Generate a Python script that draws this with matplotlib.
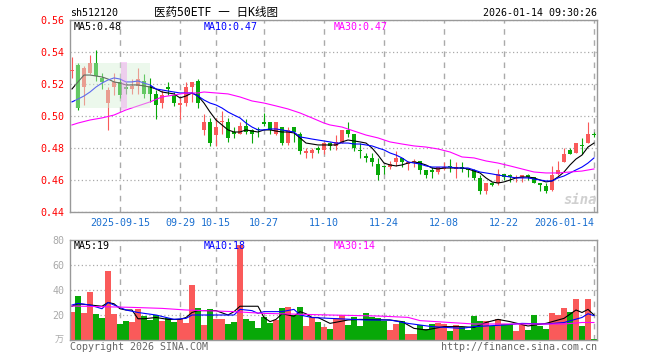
import numpy as np
import matplotlib
matplotlib.use("Agg")
import matplotlib.pyplot as plt
from matplotlib.patches import Rectangle

plt.rcParams['font.family'] = ['DejaVu Sans Mono', 'Noto Sans CJK SC']

# daily candles, Sep 3 2025 .. Jan 14 2026 (88 trading days)
opens = [0.528, 0.532, 0.518, 0.527, 0.533, 0.524, 0.508, 0.518, 0.521, 0.518,
         0.517, 0.519, 0.522, 0.519, 0.514, 0.508, 0.518, 0.513, 0.507, 0.508,
         0.518, 0.522, 0.491, 0.496, 0.488, 0.496, 0.496, 0.490, 0.489, 0.494,
         0.491, 0.492, 0.496, 0.496, 0.489, 0.493, 0.483, 0.493, 0.489, 0.477,
         0.477, 0.480, 0.479, 0.483, 0.481, 0.483, 0.491, 0.489, 0.479, 0.475,
         0.474, 0.470, 0.469, 0.468, 0.471, 0.474, 0.470, 0.471, 0.472, 0.466,
         0.466, 0.465, 0.467, 0.469, 0.467, 0.468, 0.467, 0.466, 0.461, 0.453,
         0.458, 0.458, 0.464, 0.463, 0.461, 0.461, 0.463, 0.462, 0.458, 0.456,
         0.454, 0.464, 0.471, 0.479, 0.477, 0.482, 0.483, 0.489]
highs = [0.537, 0.533, 0.531, 0.538, 0.541, 0.527, 0.518, 0.527, 0.523, 0.521,
         0.523, 0.530, 0.526, 0.524, 0.516, 0.516, 0.521, 0.515, 0.511, 0.521,
         0.521, 0.523, 0.501, 0.499, 0.499, 0.503, 0.499, 0.493, 0.496, 0.498,
         0.492, 0.493, 0.502, 0.496, 0.496, 0.493, 0.493, 0.493, 0.490, 0.480,
         0.480, 0.481, 0.484, 0.484, 0.488, 0.491, 0.496, 0.489, 0.483, 0.477,
         0.477, 0.474, 0.469, 0.472, 0.478, 0.474, 0.472, 0.473, 0.472, 0.466,
         0.468, 0.468, 0.471, 0.473, 0.471, 0.471, 0.467, 0.467, 0.463, 0.458,
         0.459, 0.467, 0.464, 0.464, 0.463, 0.463, 0.464, 0.462, 0.458, 0.458,
         0.469, 0.472, 0.480, 0.480, 0.483, 0.486, 0.496, 0.490]
lows = [0.524, 0.504, 0.507, 0.526, 0.522, 0.517, 0.491, 0.513, 0.511, 0.514,
        0.514, 0.514, 0.511, 0.509, 0.498, 0.505, 0.513, 0.506, 0.498, 0.506,
        0.509, 0.505, 0.488, 0.481, 0.481, 0.489, 0.484, 0.486, 0.489, 0.489,
        0.483, 0.487, 0.494, 0.489, 0.488, 0.482, 0.482, 0.484, 0.476, 0.474,
        0.474, 0.477, 0.476, 0.479, 0.479, 0.483, 0.487, 0.478, 0.474, 0.471,
        0.469, 0.460, 0.464, 0.467, 0.469, 0.468, 0.466, 0.468, 0.464, 0.461,
        0.461, 0.464, 0.466, 0.465, 0.461, 0.465, 0.462, 0.460, 0.451, 0.451,
        0.456, 0.457, 0.460, 0.459, 0.459, 0.459, 0.460, 0.458, 0.453, 0.452,
        0.453, 0.463, 0.471, 0.476, 0.477, 0.476, 0.483, 0.487]
closes = [0.529, 0.505, 0.530, 0.533, 0.525, 0.521, 0.516, 0.521, 0.513, 0.517,
          0.519, 0.523, 0.514, 0.514, 0.507, 0.513, 0.517, 0.508, 0.508, 0.518,
          0.521, 0.508, 0.496, 0.483, 0.493, 0.497, 0.486, 0.489, 0.494, 0.490,
          0.489, 0.491, 0.495, 0.491, 0.496, 0.483, 0.491, 0.490, 0.478, 0.478,
          0.479, 0.479, 0.483, 0.481, 0.484, 0.491, 0.489, 0.480, 0.478, 0.474,
          0.471, 0.463, 0.468, 0.470, 0.474, 0.471, 0.471, 0.472, 0.466, 0.463,
          0.465, 0.468, 0.468, 0.468, 0.468, 0.467, 0.466, 0.461, 0.453, 0.458,
          0.457, 0.464, 0.462, 0.462, 0.462, 0.463, 0.462, 0.458, 0.457, 0.453,
          0.463, 0.466, 0.476, 0.476, 0.483, 0.481, 0.489, 0.488]
volumes = [22.7, 35.5, 22, 38.7, 21, 18, 55.5, 21, 12.8, 15.5,
           14.7, 24.8, 19, 16, 20, 15.5, 17.3, 14.7, 16.8, 14,
           44, 25.3, 12, 24.8, 17, 16.8, 12.8, 14.7, 76, 17,
           15.5, 9.9, 18.7, 14, 16, 25.6, 26.4, 20, 26.4, 11.3,
           18.7, 14.7, 10.7, 8.9, 17.3, 20, 12, 18.7, 11.5, 21.9,
           18.7, 18, 15.5, 8, 12.8, 15.5, 4.8, 4.8, 12, 8.5,
           12.8, 13.3, 12.8, 7.5, 12, 10.7, 7.7, 19, 15.5, 15,
           11.5, 16.5, 12.8, 12.8, 7.5, 12, 7.8, 20, 11.5, 8.9,
           21.9, 20, 26, 22.7, 32.8, 11.5, 32.8, 0.8]

# moving averages as drawn on the chart
ma5 = [0.5169, 0.5213, 0.5256, 0.5256, 0.525, 0.5244, 0.5231, 0.5213, 0.5206, 0.5194,
       0.5194, 0.5194, 0.5188, 0.5181, 0.5169, 0.515, 0.5144, 0.5138, 0.5113, 0.5125,
       0.5144, 0.5125, 0.5081, 0.5025, 0.4975, 0.4944, 0.4913, 0.49, 0.49, 0.4913,
       0.4906, 0.49, 0.4913, 0.4913, 0.4906, 0.49, 0.49, 0.4894, 0.4863, 0.4831,
       0.4825, 0.4819, 0.4819, 0.4819, 0.4819, 0.4838, 0.485, 0.4844, 0.4838, 0.4831,
       0.48, 0.4756, 0.4706, 0.4694, 0.4688, 0.4694, 0.4706, 0.4713, 0.4706, 0.4694,
       0.4675, 0.4669, 0.4675, 0.4675, 0.4675, 0.4675, 0.4669, 0.4656, 0.4644, 0.4613,
       0.4588, 0.4581, 0.4588, 0.46, 0.4613, 0.4619, 0.4619, 0.4613, 0.46, 0.4588,
       0.4594, 0.4619, 0.465, 0.4694, 0.4731, 0.4756, 0.4806, 0.4831]
ma10 = [0.5088, 0.5106, 0.5125, 0.515, 0.5181, 0.5206, 0.5225, 0.5238, 0.5231, 0.5213,
        0.5213, 0.5219, 0.5206, 0.5194, 0.5169, 0.5163, 0.5156, 0.515, 0.5144, 0.5144,
        0.5144, 0.5125, 0.51, 0.5081, 0.5069, 0.505, 0.5025, 0.5006, 0.4988, 0.4956,
        0.4931, 0.4913, 0.4913, 0.4919, 0.4919, 0.4913, 0.4906, 0.49, 0.4869, 0.4863,
        0.4856, 0.485, 0.4844, 0.4838, 0.4831, 0.4831, 0.4831, 0.4825, 0.4825, 0.4819,
        0.4813, 0.48, 0.4788, 0.4769, 0.4756, 0.4738, 0.4713, 0.4706, 0.47, 0.4688,
        0.4681, 0.4681, 0.4681, 0.4681, 0.4675, 0.4675, 0.4675, 0.4663, 0.465, 0.4644,
        0.4638, 0.4631, 0.4625, 0.4619, 0.4613, 0.4613, 0.4613, 0.4606, 0.46, 0.4594,
        0.4594, 0.4613, 0.4625, 0.4644, 0.4663, 0.4681, 0.4706, 0.4738]
ma30_idx = [0, 1, 3, 5, 7, 9, 11, 13, 15, 17, 19, 21, 22, 24, 26, 28, 30, 32, 34,
            36, 38, 40, 42, 43, 45, 47, 49, 51, 53, 55, 57, 59, 61, 63, 65, 67,
            69, 71, 73, 75, 77, 79, 81, 83, 85, 87]
ma30 = [0.4944, 0.4956, 0.4975, 0.4988, 0.5006, 0.5038, 0.5063, 0.5088, 0.5119,
        0.5131, 0.5144, 0.5144, 0.515, 0.5144, 0.5138, 0.5119, 0.5094, 0.5081,
        0.5063, 0.5044, 0.5019, 0.4988, 0.4956, 0.4944, 0.4931, 0.4906, 0.4881,
        0.4863, 0.4838, 0.4825, 0.4813, 0.4806, 0.4794, 0.4775, 0.4744, 0.4738,
        0.4719, 0.4706, 0.4688, 0.4669, 0.465, 0.4644, 0.4644, 0.465, 0.4656, 0.4669]

vma5_idx = [0, 1, 3, 5, 6, 7, 8, 9, 10, 11, 12, 14, 16, 18, 19, 20, 21, 24, 26, 27,
            28, 31, 32, 33, 34, 35, 37, 38, 39, 40, 41, 43, 46, 48, 53, 55, 57, 59,
            62, 65, 67, 69, 71, 73, 76, 79, 82, 84, 85, 86, 87]
vma5 = [27, 29, 28, 27, 30, 29, 25, 24, 24, 17, 17, 18, 16.5, 16.5, 18, 22, 23.5,
        23.5, 20, 22.7, 27, 27, 18, 14.7, 16.5, 21, 19, 22.7, 21, 18, 18, 13.3, 16,
        16.5, 16, 14.7, 9.3, 8, 10.7, 10.7, 10, 14, 16.5, 14.7, 11.2, 13.3, 17.3,
        24, 22, 24.5, 20]
vma10_idx = [0, 1, 3, 5, 6, 7, 9, 11, 14, 17, 19, 20, 24, 27, 28, 30, 31, 32, 35,
             37, 38, 40, 43, 49, 53, 56, 60, 65, 67, 72, 75, 79, 82, 85, 86, 87]
vma10 = [28, 29.3, 28, 25, 30, 28, 24, 22, 20, 16.5, 17.3, 20, 20, 20, 24.5, 23.5,
         21.3, 22.7, 22.7, 24.5, 20, 18, 17.3, 16, 16, 13.3, 10.7, 9.3, 10.7, 12,
         13.3, 12.8, 14, 18, 21, 19.5]
vma30_idx = [0, 10, 15, 19, 27, 32, 43, 51, 56, 58, 63, 67, 82, 85, 87]
vma30 = [27.2, 26.1, 25.3, 24, 22.7, 21.3, 20, 19.2, 18.1, 15.5, 14, 12.8, 12.8, 14, 14]

date_idx = [8, 18, 24, 32, 42, 52, 62, 72, 87]
date_labels = ['2025-09-15', '09-29', '10-15', '10-27', '11-10', '11-24',
               '12-08', '12-22', '2026-01-14']
price_ticks = [0.44, 0.46, 0.48, 0.50, 0.52, 0.54, 0.56]
vol_ticks = [20, 40, 60, 80]

RED = '#fa5a5a'
GREEN = '#08a808'
GRID = '#aaaaaa'
FS = 7.2
LW = 0.8

x = np.arange(len(closes))
o = np.array(opens)
c = np.array(closes)
up = c > o
colors = np.where(up, RED, GREEN)

W, H = 660, 360
fig = plt.figure(figsize=(6.6, 3.6), dpi=100)
ax = fig.add_axes([70 / W, 148 / H, 527 / W, 192 / H])
axv = fig.add_axes([70 / W, 20 / H, 527 / W, 100 / H])

# candles
ax.vlines(x, lows, highs, colors=colors, lw=LW, zorder=2)
body_lo = np.minimum(o, c)
body_h = np.maximum(np.abs(c - o), 0.0005)
ax.bar(x, body_h, bottom=body_lo, width=0.72, color=colors, zorder=3, linewidth=0)

ax.plot(x, ma5, color='black', lw=LW, zorder=4)
ax.plot(x, ma10, color='#0000ff', lw=LW, zorder=4)
ax.plot(ma30_idx, ma30, color='#ff00ff', lw=LW, zorder=4)

# washed-out overlay seen on the left of the reference
ax.add_patch(Rectangle((0.5, 0.505), 12.5, 0.028, facecolor='#d6f0d6',
                       alpha=0.45, lw=0, zorder=5))
ax.add_patch(Rectangle((8.2, 0.504), 1.0, 0.030, facecolor='#f090f0',
                       alpha=0.4, lw=0, zorder=5))

ax.set_xlim(-0.333, 87.5)
ax.set_ylim(0.44, 0.56)
ax.set_yticks(price_ticks)
ax.set_yticklabels(['%.2f' % t for t in price_ticks])
ax.set_xticks(date_idx)
ax.set_xticklabels(date_labels)
ax.get_xticklabels()[-1].set_ha('right')
ax.tick_params(axis='y', length=0, pad=4, labelsize=FS, labelcolor='#ff0000')
ax.tick_params(axis='x', length=0, pad=4, labelsize=FS, labelcolor='#1a6fd0')
ax.grid(axis='y', linestyle=(0, (1, 2)), color=GRID, lw=0.9)
ax.grid(axis='x', linestyle=(0, (4, 4)), color=GRID, lw=1)
ax.set_axisbelow(True)

# volume
axv.bar(x, volumes, width=0.84, color=colors, linewidth=0, zorder=2)
axv.plot(vma5_idx, vma5, color='black', lw=LW, zorder=3)
axv.plot(vma10_idx, vma10, color='#0000ff', lw=LW, zorder=3)
axv.plot(vma30_idx, vma30, color='#ff00ff', lw=LW, zorder=3)
axv.set_xlim(-0.333, 87.5)
axv.set_ylim(0, 80)
axv.set_yticks(vol_ticks)
axv.set_xticks(date_idx)
axv.set_xticklabels([])
axv.tick_params(axis='y', length=0, pad=4, labelsize=FS, labelcolor='#aaaaaa')
axv.tick_params(axis='x', length=0)
axv.grid(axis='y', linestyle=(0, (1, 2)), color=GRID, lw=0.9)
axv.grid(axis='x', linestyle=(0, (4, 4)), color=GRID, lw=1)
axv.set_axisbelow(True)

for a in (ax, axv):
    for s in a.spines.values():
        s.set_color('#999999')
        s.set_linewidth(1)


def ftext(px, py, s, **kw):
    fig.text(px / W, 1 - py / H, s, fontsize=kw.pop('fontsize', FS), va='center', **kw)


ftext(70, 13, 'sh512120', color='black')
ftext(216, 12, '医药50ETF 一 日K线图', color='black', ha='center', fontsize=8.3)
ftext(597, 13, '2026-01-14 09:30:26', color='black', ha='right')
ftext(74, 27, 'MA5:0.48', color='black')
ftext(204, 27, 'MA10:0.47', color='#0000ff')
ftext(334, 27, 'MA30:0.47', color='#ff00ff')
ftext(74, 246, 'MA5:19', color='black')
ftext(204, 246, 'MA10:18', color='#0000ff')
ftext(334, 246, 'MA30:14', color='#ff00ff')
ftext(64, 340, '万', color='#aaaaaa', ha='right', fontsize=6.5)
ftext(70, 347, 'Copyright 2026 SINA.COM', color='#666666')
ftext(597, 347, 'http://finance.sina.com.cn', color='#666666', ha='right')
ftext(580, 200, 'sina', color='#d0d0d0', ha='center', fontsize=10,
      fontweight='bold', fontstyle='italic')

fig.savefig('out.png', dpi=100)
